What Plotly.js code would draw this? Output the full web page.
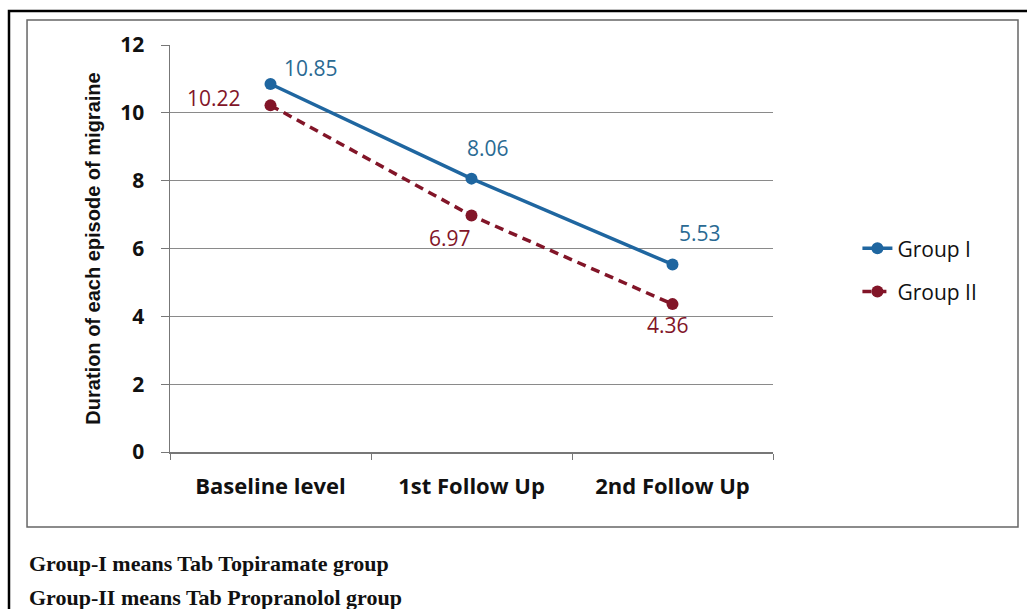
<!DOCTYPE html>
<html><head><meta charset="utf-8">
<script src="https://cdn.plot.ly/plotly-3.0.1.min.js"></script>
<style>body{margin:0;background:#fff}#c{width:1027px;height:609px}</style>
</head><body><div id="c"></div>
<script>
const categories = ["Baseline level", "1st Follow Up", "2nd Follow Up"];
const group1 = [10.85, 8.06, 5.53];
const group2 = [10.22, 6.97, 4.36];
const seriesNames = ["Group I", "Group II"];
const yTicks = [0, 2, 4, 6, 8, 10, 12];
const footnotes = ["Group-I means Tab Topiramate group", "Group-II means Tab Propranolol group"];

const blue = "#1f66a0", red = "#821528";
const blueText = "#2a6a93";
const sans = "Open Sans, Liberation Sans, sans-serif";

// label offsets (pixels) for data labels
const off1 = [[40, 16], [16, 31], [27, 31]];
const off2 = [[-57, 7], [-22, -22], [-5, -21]];

const traces = [
  {x: categories, y: group1, name: seriesNames[0], legendgroup: "a", type: "scatter", mode: "lines+markers",
   line: {color: blue, width: 3.5}, marker: {color: blue, size: 12}, cliponaxis: false},
  {x: categories, y: group2, name: seriesNames[1], legendgroup: "b", type: "scatter", mode: "lines+markers",
   line: {color: red, width: 3.5, dash: "9px,6px"}, marker: {color: red, size: 12}, cliponaxis: false}
];

const labelAnn = [];
group1.forEach((v, i) => labelAnn.push({x: categories[i], y: v, text: v.toFixed(2), showarrow: false,
  xshift: off1[i][0], yshift: off1[i][1], font: {family: sans, size: 21, color: blueText}}));
group2.forEach((v, i) => labelAnn.push({x: categories[i], y: v, text: v.toFixed(2), showarrow: false,
  xshift: off2[i][0], yshift: off2[i][1], font: {family: sans, size: 21, color: red}}));

const footAnn = footnotes.map((t, i) => ({
  text: t, xref: "paper", yref: "paper", x: -0.237, y: -0.273 - i * 0.084, xanchor: "left", yanchor: "middle",
  showarrow: false, font: {family: "Liberation Serif, Times New Roman, serif", size: 22, color: "#111", weight: "bold"}
}));

const layout = {
  width: 1027, height: 609,
  margin: {l: 170, r: 254, t: 45, b: 157},
  paper_bgcolor: "#fff", plot_bgcolor: "#fff",
  showlegend: true,
  legend: {x: 1.14, y: 0.55, xanchor: "left", yanchor: "top", traceorder: "grouped", tracegroupgap: 13,
           font: {family: sans, size: 21, color: "#111"}, bgcolor: "rgba(0,0,0,0)"},
  xaxis: {type: "category", showgrid: false, showline: true, linecolor: "#777", linewidth: 1.5,
          ticks: "outside", tickson: "boundaries", ticklen: 6, tickcolor: "#777", ticklabelstandoff: 14,
          tickfont: {family: sans, size: 22, color: "#111", weight: "bold"},
          range: [-0.5, 2.5]},
  yaxis: {range: [0, 12], tickvals: yTicks, showgrid: true, gridcolor: "#8a8a8a", gridwidth: 1,
          showline: true, linecolor: "#777", linewidth: 1.5, ticks: "outside", ticklen: 8, tickcolor: "#777",
          zeroline: false, ticklabelstandoff: 12,
          tickfont: {family: sans, size: 21, color: "#111", weight: "bold"},
          title: {text: "Duration of each episode of migraine", standoff: 14,
                  font: {family: "Liberation Sans, Arial, sans-serif", size: 20, color: "#111", weight: "bold"}}},
  shapes: [
    {type: "rect", xref: "paper", yref: "paper", x0: -0.267, x1: 1.5, y0: 1.0835, y1: -0.45,
     line: {color: "#000", width: 2.5}, fillcolor: "rgba(0,0,0,0)", layer: "below"},
    {type: "rect", xref: "paper", yref: "paper", x0: -0.2371, x1: 1.4063, y0: 1.0614, y1: -0.1843,
     line: {color: "#666", width: 1.5}, fillcolor: "rgba(0,0,0,0)", layer: "below"}
  ],
  annotations: labelAnn.concat(footAnn)
};

Plotly.newPlot("c", traces, layout, {displayModeBar: false, staticPlot: true});
</script></body></html>
